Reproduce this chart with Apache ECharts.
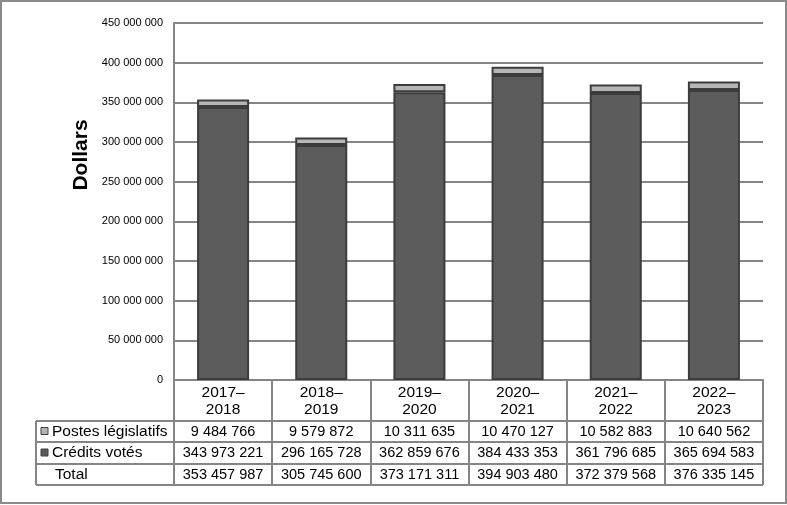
<!DOCTYPE html>
<html><head><meta charset="utf-8">
<script src="https://cdn.jsdelivr.net/npm/echarts@6/dist/echarts.min.js"></script>
<style>html,body{margin:0;padding:0;background:#fff}#c{width:787px;height:505px}</style>
</head><body><div id="c"></div>
<script>
const years = ['2017–\n2018','2018–\n2019','2019–\n2020','2020–\n2021','2021–\n2022','2022–\n2023'];
const postes = [9484766, 9579872, 10311635, 10470127, 10582883, 10640562];
const credits = [343973221, 296165728, 362859676, 384433353, 361796685, 365694583];
const totals = [353457987, 305745600, 373171311, 394903480, 372379568, 376335145];
const rowNames = ['Postes législatifs', 'Crédits votés', 'Total'];
const yMax = 450000000, yStep = 50000000;

function fmt(v){ return String(v).replace(/\B(?=(\d{3})+(?!\d))/g, ' '); }

const L = 174, R = 763, T = 23, B = 380;
const rowY = [380, 421, 442, 464, 485];
const legL = 36;
const gridCol = '#858585';
const font = 'Liberation Sans, Arial, sans-serif';

const chart = echarts.init(document.getElementById('c'), null, {renderer:'canvas'});

function rowAxis(vals, idx){
  const mid = (rowY[idx] + rowY[idx+1]) / 2;
  return {
    type:'category', data: vals.map(fmt), position:'bottom', gridIndex:0,
    axisLine:{show:false}, axisTick:{show:false}, splitLine:{show:false},
    axisLabel:{interval:0, margin: mid - 380 - 7.5, fontSize:14.5, lineHeight:15, color:'#000', fontFamily:font}
  };
}

const graphics = [];
// outer frame
graphics.push({type:'rect', shape:{x:1,y:1,width:785,height:502}, style:{fill:'none', stroke:'#8a8a8a', lineWidth:2}, z:10});
// table horizontal lines
for (let i = 1; i < rowY.length; i++) {
  graphics.push({type:'line', shape:{x1:legL, y1:rowY[i], x2:R, y2:rowY[i]}, style:{stroke:gridCol, lineWidth:2}, z:5});
}
graphics.push({type:'line', shape:{x1:legL, y1:rowY[1], x2:legL, y2:rowY[4]}, style:{stroke:gridCol, lineWidth:2}, z:5});
// row labels
const markerColors = ['#b4b4b4', '#5a5a5a', null];
rowNames.forEach((n, i) => {
  const mid = (rowY[i+1] + rowY[i+2]) / 2;
  if (markerColors[i]) {
    graphics.push({type:'rect', shape:{x:41, y:mid-4, width:7, height:7}, style:{fill:markerColors[i], stroke:'#404040', lineWidth:1}, z:6});
  }
  graphics.push({type:'text', x: i===2 ? 55 : 52, y: mid, style:{text:n, fill:'#000', font:'15.5px ' + font, textVerticalAlign:'middle'}, z:6});
});
// Y axis title
graphics.push({type:'text', x:81, y:155, rotation:Math.PI/2, style:{text:'Dollars', fill:'#000', font:'bold 21px ' + font, textAlign:'center', textVerticalAlign:'middle'}, z:6});

chart.setOption({
  animation:false,
  backgroundColor:'#fff',
  grid:{left:L, right:787-R, top:T, bottom:505-B, containLabel:false},
  xAxis:[
    {type:'category', data:years, position:'bottom',
     axisLine:{show:true, lineStyle:{color:gridCol, width:2}},
     axisTick:{show:true, interval:0, length:rowY[4]-rowY[0], lineStyle:{color:gridCol, width:2}},
     axisLabel:{interval:0, margin:4, fontSize:15.5, lineHeight:17, color:'#000', fontFamily:font}},
    rowAxis(postes, 1),
    rowAxis(credits, 2),
    rowAxis(totals, 3)
  ],
  yAxis:{type:'value', min:0, max:yMax, interval:yStep,
    axisLine:{show:true, lineStyle:{color:gridCol, width:2}},
    axisTick:{show:false},
    splitLine:{lineStyle:{color:gridCol, width:2}},
    axisLabel:{margin:11, fontSize:11, color:'#000', fontFamily:font, formatter:v => fmt(v)}},
  series:[
    {name:'Crédits votés', type:'bar', stack:'t', data:credits, barWidth:'53%',
     itemStyle:{color:'#5c5c5c', borderColor:'#3c3c3c', borderWidth:2}},
    {name:'Postes législatifs', type:'bar', stack:'t', data:postes, barWidth:'53%',
     itemStyle:{color:'#b6b6b6', borderColor:'#3c3c3c', borderWidth:2}}
  ],
  graphic: graphics
});
</script></body></html>
